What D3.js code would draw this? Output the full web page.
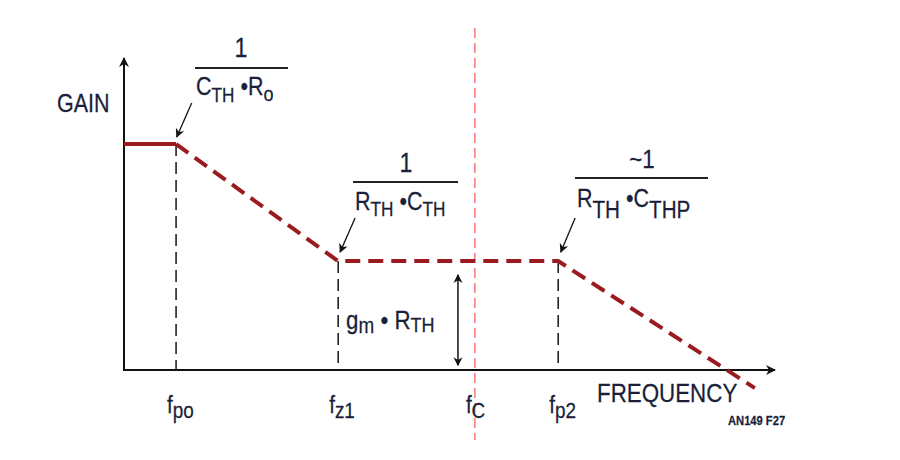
<!DOCTYPE html>
<html><head><meta charset="utf-8">
<script src="https://cdn.jsdelivr.net/npm/d3@7"></script>
<style>
html,body{margin:0;padding:0;background:#fff;}
svg text{font-family:"Liberation Sans","Arial",sans-serif;fill:#1a1f3a;stroke:#1a1f3a;stroke-width:0.25;}
</style></head>
<body>
<svg id="c" width="900" height="460"></svg>
<script>
// breakpoint frequencies (relative log-frequency units, axis 0..100)
const breakNames = ["fpo", "fz1", "fC", "fp2"];
const breakMain = ["f", "f", "f", "f"];
const breakSub = ["po", "z1", "C", "p2"];
const breakFreq = [8, 32.9, 53.9, 66.7];
// gain curve (relative log-gain units, axis 0..100)
const curveFreq = [0, 8, 32.9, 66.7, 96.9];
const curveGain = [72.4, 72.4, 34.9, 34.9, -5.8];
const axisLabels = ["GAIN", "FREQUENCY"];
const figTag = "AN149 F27";

const svg = d3.select("#c");
const x = d3.scaleLinear().domain([0, 100]).range([124, 775]);
const y = d3.scaleLinear().domain([0, 100]).range([370, 58]);
const SX = 0.86;

const defs = svg.append("defs");
defs.append("marker").attr("id","ah").attr("viewBox","0 0 10 10").attr("refX",9).attr("refY",5)
  .attr("markerWidth",10).attr("markerHeight",10).attr("markerUnits","userSpaceOnUse").attr("orient","auto-start-reverse")
  .append("path").attr("d","M0,0 L10,5 L0,10 L3,5 Z").attr("fill","#111");
defs.append("marker").attr("id","ahs").attr("viewBox","0 0 10 10").attr("refX",9).attr("refY",5)
  .attr("markerWidth",9).attr("markerHeight",11).attr("markerUnits","userSpaceOnUse").attr("orient","auto-start-reverse")
  .append("path").attr("d","M0,0 L10,5 L0,10 L3,5 Z").attr("fill","#111");

// condensed text helper
function label(px, py, anchor, size, parts, weight) {
  const t = svg.append("g").attr("transform", `translate(${px},${py}) scale(${SX},1)`)
    .append("text").attr("x", 0).attr("y", 0).attr("text-anchor", anchor).attr("font-size", size);
  if (weight) t.attr("font-weight", weight);
  parts.forEach(p => {
    const s = t.append("tspan").text(p.t);
    if (p.fs) s.attr("font-size", p.fs);
    if (p.dy) s.attr("dy", p.dy);
  });
  return t;
}

// vertical dashed breakpoint lines
const vIdx = [0, 1, 3];
const vTop = [curveGain[1], curveGain[2], curveGain[3]];
vIdx.forEach((bi, k) => {
  svg.append("line").attr("x1", x(breakFreq[bi])).attr("x2", x(breakFreq[bi]))
    .attr("y1", y(vTop[k])).attr("y2", y(0))
    .attr("stroke", "#222").attr("stroke-width", 1.6).attr("stroke-dasharray", "12,6");
});

// crossover red dashed line
svg.append("line").attr("x1", x(breakFreq[2])).attr("x2", x(breakFreq[2]))
  .attr("y1", y(109.6)).attr("y2", y(-22.4))
  .attr("stroke", "#f04848").attr("stroke-width", 1.1).attr("stroke-dasharray", "10,5");

// axes
svg.append("line").attr("x1", x(0)).attr("x2", x(0)).attr("y1", y(0) + 1).attr("y2", y(100))
  .attr("stroke", "#111").attr("stroke-width", 2).attr("marker-end", "url(#ah)");
svg.append("line").attr("x1", x(0) - 1).attr("x2", x(100)).attr("y1", y(0)).attr("y2", y(0))
  .attr("stroke", "#111").attr("stroke-width", 2).attr("marker-end", "url(#ah)");

// gain curve
const pts = curveFreq.map((f, i) => [x(f), y(curveGain[i])]);
const line = d3.line();
svg.append("path").attr("d", line(pts.slice(0, 2))).attr("fill", "none")
  .attr("stroke", "#9a1b1f").attr("stroke-width", 4);
svg.append("path").attr("d", line(pts.slice(1))).attr("fill", "none")
  .attr("stroke", "#9a1b1f").attr("stroke-width", 4).attr("stroke-dasharray", "15,8")
  .attr("stroke-linecap", "butt");

// tick labels
breakFreq.forEach((f, i) => {
  label(x(f) - 9, 413, "start", 24, [{t: breakMain[i]}, {t: breakSub[i], fs: 22, dy: 5}]);
});

// axis labels
label(57, 112, "start", 25, [{t: axisLabels[0]}]);
label(597, 402, "start", 26, [{t: axisLabels[1]}]);
label(728, 425, "start", 13, [{t: figTag}], "bold");

// fractions
function fraction(cx, numY, barY, barX1, barX2, numText, numSize, denParts, denX, denY) {
  label(cx, numY, "middle", numSize, [{t: numText}]);
  svg.append("line").attr("x1", barX1).attr("x2", barX2).attr("y1", barY).attr("y2", barY)
    .attr("stroke", "#222").attr("stroke-width", 2);
  label(denX, denY, "start", 25, denParts);
}
fraction(241, 57, 68, 195, 288, "1", 27,
  [{t:"C"},{t:"TH",fs:20,dy:7},{t:" •",dy:-7},{t:"R"},{t:"o",fs:21,dy:6}], 196, 95);
fraction(406, 172, 182, 353, 458, "1", 27,
  [{t:"R"},{t:"TH",fs:20,dy:6},{t:" •",dy:-6},{t:"C"},{t:"TH",fs:20,dy:6}], 355, 210);
fraction(642, 168, 178, 575, 708, "~1", 26,
  [{t:"R"},{t:"TH",fs:24,dy:11},{t:" •",dy:-11},{t:"C"},{t:"THP",fs:24,dy:11}], 577, 207);

// pointer arrows
const arrows = [[10.4, 85.6, 8.1, 74.7], [35.5, 48.7, 33.2, 37.8], [69.3, 48.7, 67.1, 37.8]];
arrows.forEach(a => {
  svg.append("line").attr("x1", x(a[0])).attr("y1", y(a[1])).attr("x2", x(a[2])).attr("y2", y(a[3]))
    .attr("stroke", "#111").attr("stroke-width", 1.3).attr("marker-end", "url(#ahs)");
});

// gm*RTH double arrow
svg.append("line").attr("x1", x(51.3)).attr("x2", x(51.3)).attr("y1", y(30.5)).attr("y2", y(1.5))
  .attr("stroke", "#111").attr("stroke-width", 1.5)
  .attr("marker-start", "url(#ahs)").attr("marker-end", "url(#ahs)");
label(346, 329, "start", 26, [{t:"g"},{t:"m",fs:22,dy:4},{t:" • R",dy:-4},{t:"TH",fs:21,dy:3}]);
</script>
</body></html>
